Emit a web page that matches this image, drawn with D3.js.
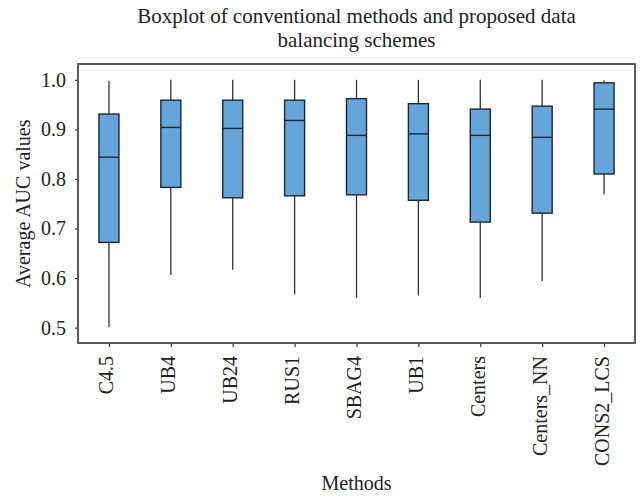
<!DOCTYPE html>
<html>
<head>
  <meta charset="utf-8">
  <style type="text/css">
    body { margin: 0; background: #fff; }
    svg text { font-family: "Liberation Serif", "Times New Roman", serif; fill: #222; }
    .axis path { display: none; }
    .axis line { stroke: #333; stroke-width: 1.2px; }
    .axis text { font-family: "Liberation Serif", serif; font-size: 20px; fill: #222; }
    .frame { fill: none; stroke: #5a5a5a; stroke-width: 2px; }
    .box rect { fill: #64a6db; stroke: #1c2733; stroke-width: 1.4px; }
    .box .median { stroke: #1c2733; stroke-width: 1.4px; }
    .box .whisker { stroke: #333; stroke-width: 1.3px; }
  </style>
</head>
<body>
  <script src="https://cdnjs.cloudflare.com/ajax/libs/d3/7.8.5/d3.min.js"></script>
  <script>
    // values
    var methods = ["C4.5", "UB4", "UB24", "RUS1", "SBAG4", "UB1", "Centers", "Centers_NN", "CONS2_LCS"];
    var lowWhisker  = [0.501, 0.606, 0.617, 0.567, 0.560, 0.565, 0.560, 0.594, 0.769];
    var q1          = [0.672, 0.783, 0.762, 0.766, 0.768, 0.757, 0.713, 0.731, 0.810];
    var median      = [0.844, 0.904, 0.902, 0.918, 0.888, 0.891, 0.888, 0.884, 0.941];
    var q3          = [0.931, 0.959, 0.959, 0.959, 0.962, 0.952, 0.941, 0.947, 0.994];
    var highWhisker = [0.998, 1.000, 1.000, 1.000, 1.000, 1.000, 1.000, 1.000, 0.999];
    var yTicks = [0.5, 0.6, 0.7, 0.8, 0.9, 1.0];

    var W = 640, H = 496;
    var margin = {top: 64, right: 5, bottom: 153, left: 78};
    var width = W - margin.left - margin.right;
    var height = H - margin.top - margin.bottom;
    var boxWidth = 20;

    var x = d3.scalePoint()
      .domain(methods)
      .range([0, width])
      .padding(0.5);

    var y = d3.scaleLinear()
      .domain([0.469, 1.032])
      .range([height, 0]);

    var svg = d3.select("body").append("svg")
      .attr("width", W)
      .attr("height", H);

    var g = svg.append("g")
      .attr("transform", "translate(" + margin.left + "," + margin.top + ")");

    // title
    var title = svg.append("text")
      .attr("x", margin.left + width / 2)
      .attr("text-anchor", "middle")
      .style("font-size", "21px");
    title.append("tspan").attr("x", margin.left + width / 2).attr("y", 23)
      .text("Boxplot of conventional methods and proposed data");
    title.append("tspan").attr("x", margin.left + width / 2).attr("y", 47)
      .text("balancing schemes");

    // axes
    var yAxis = d3.axisLeft(y)
      .tickValues(yTicks)
      .tickFormat(d3.format(".1f"))
      .tickSize(3)
      .tickPadding(9);

    g.append("g")
      .attr("class", "y axis")
      .call(yAxis)
      .attr("font-family", null)
      .attr("font-size", null);

    var xAxis = d3.axisBottom(x)
      .tickSize(4);

    var xg = g.append("g")
      .attr("class", "x axis")
      .attr("transform", "translate(0," + height + ")")
      .call(xAxis)
      .attr("font-family", null)
      .attr("font-size", null);

    xg.selectAll("text")
      .attr("transform", "rotate(-90)")
      .attr("x", -13)
      .attr("y", 0)
      .attr("dy", "0.2em")
      .style("text-anchor", "end");

    // boxes
    var boxes = g.selectAll(".box")
      .data(methods)
      .enter()
      .append("g")
      .attr("class", "box")
      .attr("transform", function(d) { return "translate(" + x(d) + ",0)"; });

    boxes.append("line")
      .attr("class", "whisker")
      .attr("x1", 0).attr("x2", 0)
      .attr("y1", function(d, i) { return y(highWhisker[i]); })
      .attr("y2", function(d, i) { return y(q3[i]); });

    boxes.append("line")
      .attr("class", "whisker")
      .attr("x1", 0).attr("x2", 0)
      .attr("y1", function(d, i) { return y(q1[i]); })
      .attr("y2", function(d, i) { return y(lowWhisker[i]); });

    boxes.append("rect")
      .attr("x", -boxWidth / 2)
      .attr("width", boxWidth)
      .attr("y", function(d, i) { return y(q3[i]); })
      .attr("height", function(d, i) { return y(q1[i]) - y(q3[i]); });

    boxes.append("line")
      .attr("class", "median")
      .attr("x1", -boxWidth / 2).attr("x2", boxWidth / 2)
      .attr("y1", function(d, i) { return y(median[i]); })
      .attr("y2", function(d, i) { return y(median[i]); });

    // frame
    g.append("rect")
      .attr("class", "frame")
      .attr("width", width)
      .attr("height", height);

    // axis titles
    svg.append("text")
      .attr("transform", "translate(30," + (margin.top + y(0.75)) + ") rotate(-90)")
      .attr("text-anchor", "middle")
      .style("font-size", "20px")
      .text("Average AUC values");

    svg.append("text")
      .attr("x", margin.left + width / 2)
      .attr("y", 490)
      .attr("text-anchor", "middle")
      .style("font-size", "20px")
      .text("Methods");
  </script>
</body>
</html>
